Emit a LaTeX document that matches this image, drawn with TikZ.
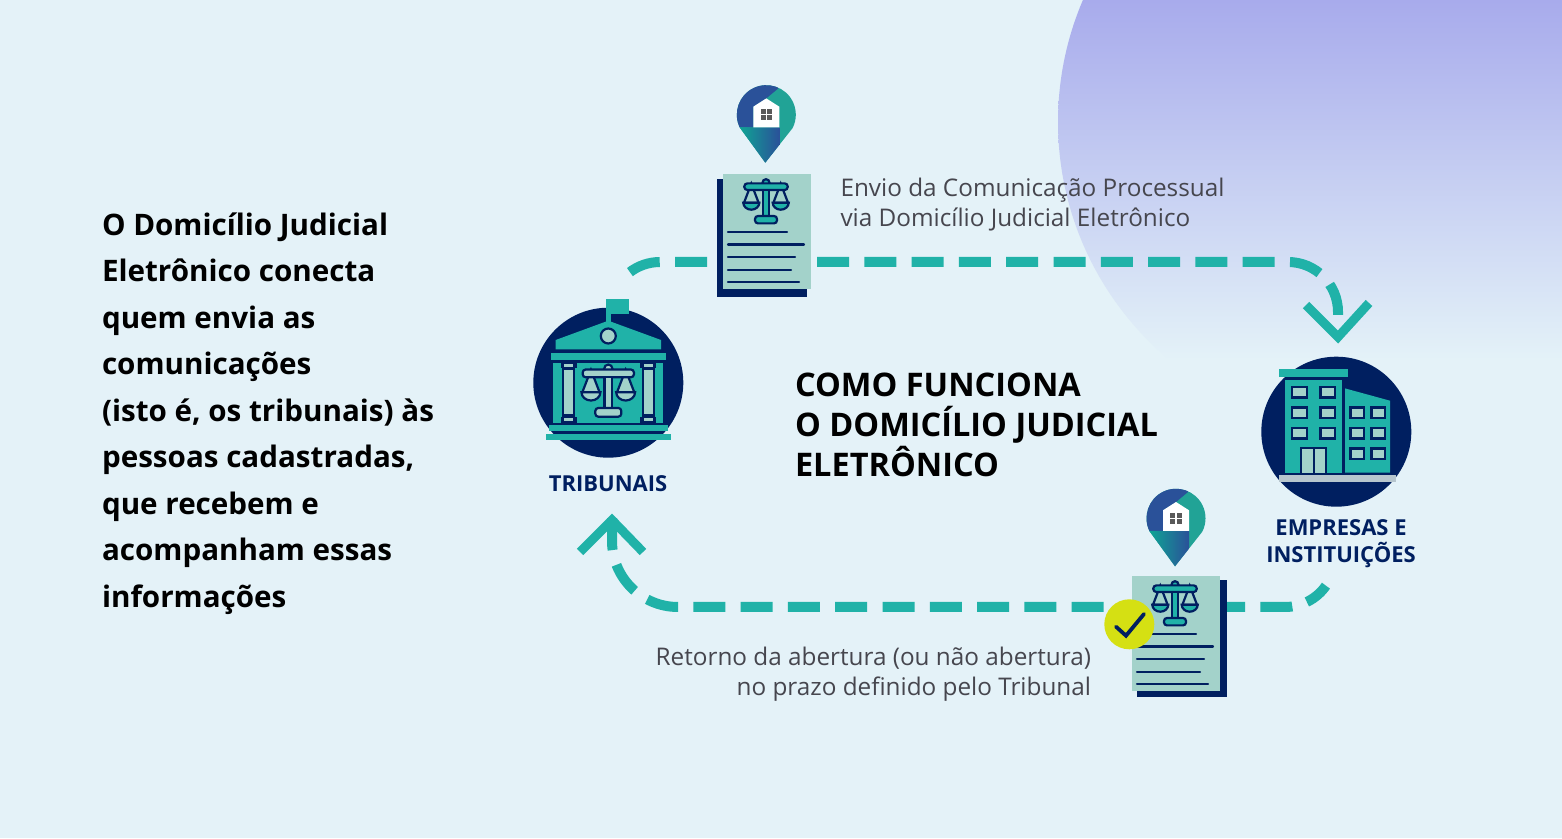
\documentclass[tikz,border=0pt]{standalone}
\usepackage{fontspec}
\setmainfont{Open Sans}
\definecolor{pagebg}{HTML}{E4F2F8}
\definecolor{blobtop}{HTML}{A8ABEC}
\definecolor{blobmid}{HTML}{D3DAF4}
\definecolor{navy}{HTML}{001F60}
\definecolor{flow}{HTML}{20B2A8}
\definecolor{sheet}{HTML}{A3D2CA}
\definecolor{pinblue}{HTML}{2A5199}
\definecolor{pingreen}{HTML}{21A396}
\definecolor{pinteal}{HTML}{0FA594}
\definecolor{capgray}{HTML}{46464E}
\definecolor{tick}{HTML}{D5E013}
\definecolor{ground}{HTML}{B7C6CE}
\tikzset{
    flowline/.style={draw=flow, line width=10pt, dash pattern=on 32pt off 15.3pt},
    chevron/.style={draw=flow, line width=9pt},
    balline/.style={draw=navy, line width=2.2pt},
    sheetline/.style={draw=navy, line width=2.2pt, line cap=round},
    pane/.style={draw=navy, fill=sheet, line width=2.2pt},
    roundicon/.style={circle, fill=navy, minimum size=150pt, inner sep=0pt},
    bigtext/.style={anchor=north west, align=left, font=\bfseries\fontsize{29.6}{46.5}\selectfont},
    titletext/.style={anchor=north west, align=left, font=\bfseries\fontsize{32.5}{40}\selectfont},
    captext/.style={text=capgray, font=\fontsize{24.3}{30}\selectfont},
    whotext/.style={text=navy, align=center, font=\bfseries\fontsize{22}{27}\selectfont},
    pics/balance/.style={code={
        \foreach \panx in {-14.7,14.7} {
            \filldraw[balline, fill=sheet] (\panx,3) -- (\panx-7.3,-16) -- (\panx+7.3,-16) -- cycle;
            \filldraw[balline, fill=#1] (\panx+8,-16) arc[start angle=0, end angle=-180, x radius=8, y radius=7] -- cycle;
        }
        \filldraw[balline, fill=#1] (0,4) circle (3.5);
        \filldraw[balline, fill=#1, rounded corners=3pt] (-21.7,-3.3) rectangle (21.7,3.3);
        \filldraw[balline, fill=#1] (-3.3,-30) rectangle (3.3,-3.3);
        \filldraw[balline, fill=#1, rounded corners=3pt] (-11,-36.7) rectangle (11,-29.3);
    }},
    pics/docsheet/.style={code={
        \fill[sheet] (0,0) rectangle (87.5,-115);
        \pic at (43,-12.7) {balance=flow};
        \draw[sheetline] (5,-58) -- (64,-58);
        \draw[sheetline] (5,-70.5) -- (81,-70.5);
        \draw[sheetline] (5,-83) -- (72,-83);
        \draw[sheetline] (5,-96) -- (68,-96);
        \draw[sheetline] (5,-108) -- (76,-108);
    }},
    pics/mappin/.style={code={
        \begin{scope}
            \clip (-26.5,-12.9) arc[start angle=206, end angle=-27, radius=29.5] -- (-1,-48) -- cycle;
            \fill[pingreen] (-32,-50) rectangle (32,32);
            \fill[pinblue] (-32,-12.7) -- (-13,-12.7) -- (-13,8) -- (0,16.3) -- (12,26.3) -- (12,32) -- (-32,32) -- cycle;
            \shade[left color=pinteal, right color=pinblue] (-27,-12.7) -- (13,-12.7) -- (13,-30) -- (-1,-50) -- cycle;
        \end{scope}
        \fill[white] (-13,-12.7) -- (-13,8) -- (0,16.3) -- (13,8) -- (13,-12.7) -- cycle;
        \foreach \wx in {-5.7,0.7} \foreach \wy in {-5.7,0.7}
            \fill[black!65] (\wx,\wy) rectangle ++(5,5);
    }}
}
\begin{document}
\begin{tikzpicture}[x=1pt, y=1pt]
    \useasboundingbox (0,0) rectangle (1562,838);
    \fill[pagebg] (0,0) rectangle (1562,838);

    % corner blob
    \begin{scope}
        \clip (0,0) rectangle (1562,838);
        \clip (1368,716) circle (310);
        \shade[top color=blobtop, middle color=blobmid, bottom color=pagebg] (1040,478) rectangle (1562,838);
    \end{scope}

    % dashed flow, top
    \coordinate (sendin) at (707,576);
    \coordinate (sendout) at (817,576);
    \coordinate (sendtip) at (1338,501);
    \draw[flowline] (sendin) -- (660,576) arc[start angle=90, end angle=128, radius=50];
    \draw[flowline] (sendout) -- (1288,576) arc[start angle=90, end angle=0, radius=50] -- (1338,520);
    \draw[chevron] (1306,533) -- (sendtip) -- (1369,535);

    % dashed flow, bottom
    \coordinate (backin) at (1213,231);
    \coordinate (backout) at (1103.7,231);
    \coordinate (backtip) at (612,318);
    \draw[flowline] (backin) -- (1285,231) arc[start angle=270, end angle=325, radius=50];
    \draw[flowline] (backout) -- (678,231) arc[start angle=270, end angle=180, radius=66] -- (612,320);
    \draw[chevron] (580,286) -- (backtip) -- (643,286);

    % tribunal
    \node[roundicon] (court) at (608.3,455.3) {};
    \begin{scope}[shift={(court.center)}]
        \fill[flow] (-2.3,68.7) rectangle (20.7,83.7);
        \fill[flow] (-2.3,55) rectangle (2.3,70);
        \fill[flow] (-52.6,42.7) -- (0,62) -- (52.7,42.7) -- (52.7,33.4) -- (-52.6,33.4) -- cycle;
        \filldraw[balline, fill=sheet] (0,46.7) circle (7.5);
        \fill[flow] (-57.3,22.7) rectangle (57.3,30);
        \fill[flow] (-55,-40) rectangle (55,20);
        \foreach \colx in {-39.7,39.7} {
            \fill[navy] (\colx-8,-40) rectangle (\colx+8,20);
            \fill[flow] (\colx-8,-34) rectangle (\colx-6.5,14.5);
            \fill[flow] (\colx+6.5,-34) rectangle (\colx+8,14.5);
            \fill[sheet] (\colx-4.5,-31) rectangle (\colx+4.5,12.7);
            \fill[sheet] (\colx-4.5,19) rectangle (\colx+4.5,15.5);
            \fill[sheet] (\colx-4.5,-38.7) rectangle (\colx+4.5,-35);
        }
        \pic[scale=1.18] at (0,9.3) {balance=sheet};
        \fill[flow] (-59.3,-48.3) rectangle (59.3,-42.3);
        \fill[flow] (-62.3,-57) rectangle (62.3,-51);
    \end{scope}
    \node[whotext] (courtname) at (608,354) {TRIBUNAIS};

    % companies
    \node[roundicon] (firm) at (1336.3,406.3) {};
    \begin{scope}[shift={(firm.center)}]
        \fill[flow] (-57,55) rectangle (12,62.3);
        \fill[flow] (-51.3,-41) rectangle (6,51.7);
        \fill[flow] (8.7,43.3) -- (53.7,31) -- (53.7,-41) -- (8.7,-41) -- cycle;
        \fill[ground] (-57,-50.7) rectangle (59.7,-43.7);
        \foreach \wx in {-44.2,-15.9} \foreach \wy in {34.1,13.8,-6.9}
            \draw[pane] (\wx,\wy) rectangle ++(14.5,10.3);
        \foreach \wx in {14.1,35.1} \foreach \wy in {13.8,-6.9,-27.2}
            \draw[pane] (\wx,\wy) rectangle ++(13.5,10.3);
        \fill[navy] (-36.3,-41) rectangle (-9,-15);
        \fill[sheet] (-34,-41) rectangle (-23.7,-17);
        \fill[sheet] (-21.3,-41) rectangle (-11,-17);
    \end{scope}
    \node[whotext] (firmname) at (1341,294) {EMPRESAS E\\INSTITUIÇÕES};

    % sent document
    \fill[navy] (717,541) rectangle (807,659);
    \pic (sendsheet) at (723,664) {docsheet};
    \pic (sendpin) at (766.3,723.3) {mappin};
    \node[captext, anchor=north west, align=left] (sendcap) at (837,663) {Envio da Comunicação Processual\\via Domicílio Judicial Eletrônico};

    % returned document
    \fill[navy] (1137,141) rectangle (1227,258);
    \pic (backsheet) at (1132,262) {docsheet};
    \pic (backpin) at (1176,319.7) {mappin};
    \node[circle, fill=tick, minimum size=50pt, inner sep=0pt] (tickmark) at (1129.3,213.7) {};
    \draw[navy, line width=3.8pt, line cap=round] (1116,211.3) -- (1126,202.3) -- (1144,224);
    \node[captext, anchor=north east, align=right] (backcap) at (1094.5,194) {Retorno da abertura (ou não abertura)\\no prazo definido pelo Tribunal};

    \node[bigtext] (intro) at (98.5,629) {O Domicílio Judicial\\Eletrônico conecta\\quem envia as\\comunicações\\(isto é, os tribunais) às\\pessoas cadastradas,\\que recebem e\\acompanham essas\\informações};
    \node[titletext] (howto) at (791.5,468.5) {COMO FUNCIONA\\O DOMICÍLIO JUDICIAL\\ELETRÔNICO};
\end{tikzpicture}
\end{document}
